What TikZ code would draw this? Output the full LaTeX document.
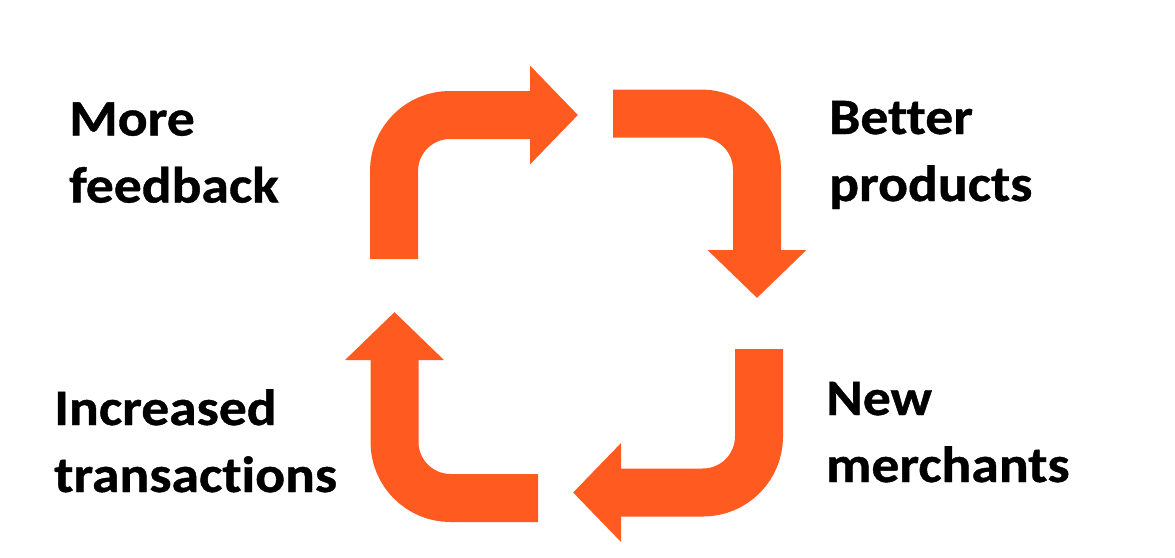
\documentclass[tikz,border=0pt]{standalone}
\usepackage{fontspec}
\setmainfont{Carlito}[Ligatures=NoCommon]
\usetikzlibrary{arrows.meta}
\definecolor{loop}{RGB}{255,90,31}
\tikzset{
  loopturn/.style={draw=loop, line width=48pt, line cap=butt, rounded corners=56pt,
    -{Triangle[length=48pt,width=96pt]}},
  lbl/.style={anchor=base west, inner sep=0pt, align=left,
    font=\fontsize{51}{67}\selectfont\bfseries\addfontfeature{FakeStretch=1.09,FakeBold=0.8}}
}
\begin{document}
\begin{tikzpicture}[x=1pt,y=-1pt]
    \useasboundingbox (0,0) rectangle (1175,557);
    \coordinate (s1) at (394,259);
    \coordinate (c1) at (394,115);
    \coordinate (t1) at (578,115);
    \coordinate (s2) at (613,113.5);
    \coordinate (c2) at (757,113.5);
    \coordinate (t2) at (757,298);
    \coordinate (s3) at (759,349);
    \coordinate (c3) at (759,492.5);
    \coordinate (t3) at (573,492.5);
    \coordinate (s4) at (538,498);
    \coordinate (c4) at (394.5,498);
    \coordinate (t4) at (394.5,312);
    \draw[loopturn] (s1) -- (c1) -- (t1);
    \draw[loopturn] (s2) -- (c2) -- (t2);
    \draw[loopturn] (s3) -- (c3) -- (t3);
    \draw[loopturn] (s4) -- (c4) -- (t4);
    \node[lbl] (feedback) at (69,202.5) {More\\feedback};
    \node[lbl] (products) at (829,201) {Better\\products};
    \node[lbl] (merchants) at (826,482) {New\\merchants};
    \node[lbl] (transactions) at (54,492) {Increased\\transactions};
  \end{tikzpicture}
\end{document}
